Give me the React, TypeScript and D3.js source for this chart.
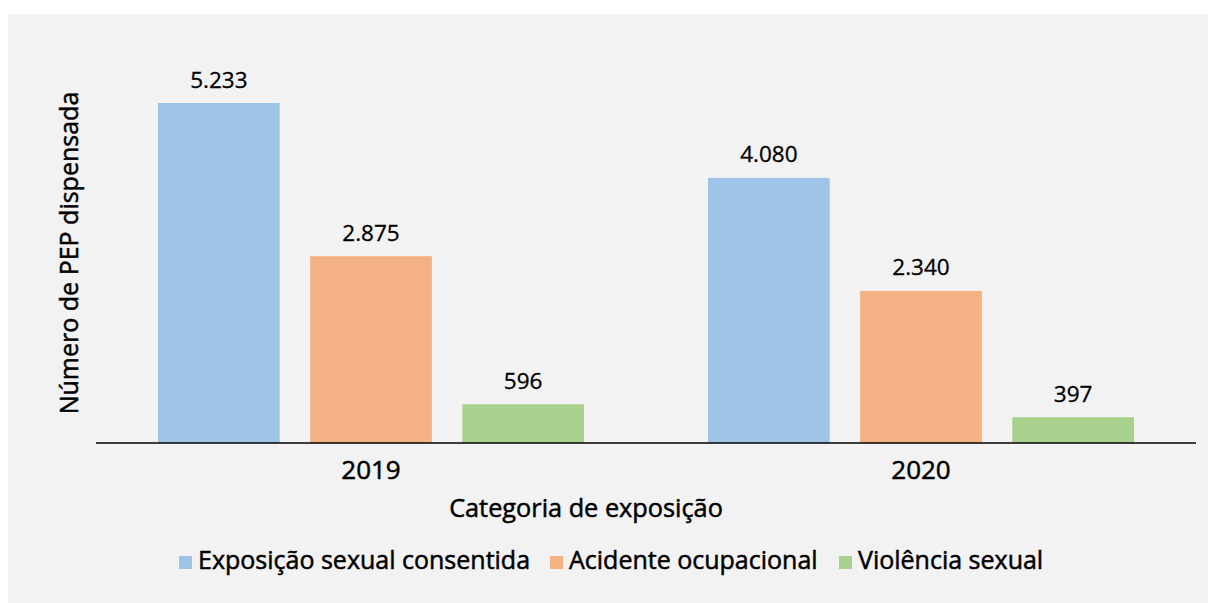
import React from "react";
import * as d3 from "d3";

const years = ["2019", "2020"];
const seriesNames = ["Exposição sexual consentida", "Acidente ocupacional", "Violência sexual"];
const consentida = [5233, 4080];
const ocupacional = [2875, 2340];
const violencia = [596, 397];
const seriesColors = ["#9dc3e6", "#f4b183", "#a9d18e"];

const W = 1208;
const H = 603;
const FONT = "'Open Sans', Lato, sans-serif";
const TEXT_STROKE = 0.5;

export default function App() {
  const values = [consentida, ocupacional, violencia];
  const k = 340 / 5233;
  const y = d3.scaleLinear().domain([0, 6000]).range([443, 443 - 6000 * k]);
  const x0 = d3.scaleBand<string>().domain(years).range([96, 1196]);
  const x1 = d3
    .scaleBand<number>()
    .domain([0, 1, 2])
    .range([62, 488])
    .paddingInner(0.2);
  const fmt = (v: number) => d3.format(",")(v).replace(/,/g, ".");

  const legendX = [179, 550, 839];
  const textProps = { fill: "#000", stroke: "#000", strokeWidth: TEXT_STROKE };

  return (
    <svg
      width={W}
      height={H}
      style={{ position: "absolute", left: 0, top: 0 }}
      fontFamily={FONT}
    >
      <rect x={0} y={0} width={W} height={H} fill="#ffffff" />
      <rect x={8} y={14} width={W - 8} height={H - 14} fill="#f2f2f2" />
      {years.map((yr, i) => (
        <g key={yr}>
          {values.map((s, j) => {
            const bx = (x0(yr) as number) + (x1(j) as number);
            const bw = x1.bandwidth();
            const top = y(s[i]);
            return (
              <g key={j}>
                <rect x={bx} y={top} width={bw} height={y(0) - top} fill={seriesColors[j]} />
                <text
                  x={bx + bw / 2}
                  y={top - 15.5}
                  textAnchor="middle"
                  fontSize={22.5}
                  {...textProps}
                  strokeWidth={0.3}
                >
                  {fmt(s[i])}
                </text>
              </g>
            );
          })}
          <text
            x={(x0(yr) as number) + x0.bandwidth() / 2}
            y={479}
            textAnchor="middle"
            fontSize={26}
            {...textProps}
          >
            {yr}
          </text>
        </g>
      ))}
      <line x1={96} x2={1196} y1={y(0)} y2={y(0)} stroke="#000" strokeWidth={1.5} />
      <text x={586} y={517} textAnchor="middle" fontSize={25.3} {...textProps}>
        Categoria de exposição
      </text>
      <text
        transform={`translate(78,253) rotate(-90)`}
        textAnchor="middle"
        fontSize={25}
        {...textProps}
      >
        Número de PEP dispensada
      </text>
      {seriesNames.map((n, j) => (
        <g key={n}>
          <rect x={legendX[j]} y={556} width={13} height={13} fill={seriesColors[j]} />
          <text x={legendX[j] + 19} y={569} fontSize={25} {...textProps}>
            {n}
          </text>
        </g>
      ))}
    </svg>
  );
}
